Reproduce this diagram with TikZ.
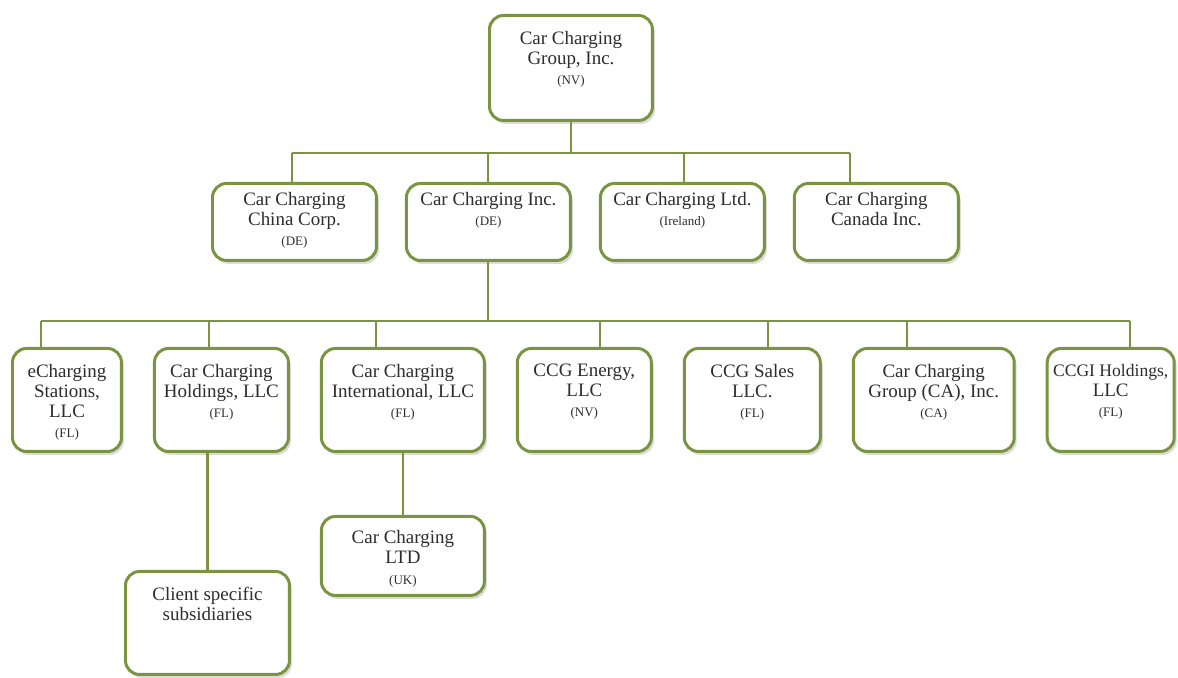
\documentclass[tikz,border=0pt]{standalone}
\usepackage{fontspec}
\setmainfont{Liberation Serif}
\usepackage{tikz}
\usetikzlibrary{positioning,shadows}
\definecolor{ccggreen}{RGB}{122,148,66}
\definecolor{ink}{RGB}{45,45,45}
\newcommand\firmfont{\fontsize{10.8}{11.4}\selectfont}
\newcommand\seat{\fontsize{7.4}{8}\selectfont}
\tikzset{
  firm/.style={draw=ccggreen, line width=1.7pt, rounded corners=0.28cm, fill=white,
               minimum width=#1, minimum height=2.06cm, inner sep=0pt,
               drop shadow={shadow xshift=0.05cm, shadow yshift=-0.07cm, opacity=0.35, fill=black!40}},
  firmname/.style={anchor=north, align=center, text=ink, font=\firmfont, inner sep=0pt, yshift=#1},
  firmname/.default=-0.33cm,
  link/.style={draw=ccggreen, line width=1.2pt},
}
\begin{document}
\begin{tikzpicture}[x=0.02cm, y=-0.02cm]
  \fill[white] (0,0) rectangle (1178,678);
  \useasboundingbox (0,0) rectangle (1178,678);

  % parent
  \node[firm=3.26cm, minimum height=2.1cm, anchor=north west,
        label={[firmname]north:{Car Charging\\Group, Inc.\\{\seat (NV)}}}] (ccg) at (488,14) {};

  % first tier
  \node[firm=3.28cm, minimum height=1.54cm, anchor=north west,
        label={[firmname=-0.19cm]north:{Car Charging\\China Corp.\\{\seat (DE)}}}] (china) at (211,182) {};
  \node[firm=3.28cm, minimum height=1.54cm, right=0.54cm of china,
        label={[firmname=-0.19cm]north:{Car Charging Inc.\\{\seat (DE)}}}] (inc) {};
  \node[firm=3.28cm, minimum height=1.54cm, right=0.54cm of inc,
        label={[firmname=-0.19cm]north:{Car Charging Ltd.\\{\seat (Ireland)}}}] (ltd) {};
  \node[firm=3.28cm, minimum height=1.54cm, right=0.54cm of ltd,
        label={[firmname=-0.19cm]north:{Car Charging\\Canada Inc.}}] (can) {};

  % second tier
  \node[firm=2.18cm, anchor=north west,
        label={[firmname]north:{eCharging\\Stations,\\LLC\\{\seat (FL)}}}] (estat) at (11,347) {};
  \node[firm=2.68cm, right=0.6cm of estat,
        label={[firmname]north:{Car Charging\\Holdings, LLC\\{\seat (FL)}}}] (hold) {};
  \node[firm=3.26cm, right=0.6cm of hold,
        label={[firmname]north:{Car Charging\\International, LLC\\{\seat (FL)}}}] (intl) {};
  \node[firm=2.68cm, right=0.6cm of intl,
        label={[firmname]north:{CCG Energy,\\LLC\\{\seat (NV)}}}] (energy) {};
  \node[firm=2.72cm, right=0.6cm of energy,
        label={[firmname]north:{CCG Sales\\LLC.\\{\seat (FL)}}}] (sales) {};
  \node[firm=3.22cm, right=0.6cm of sales,
        label={[firmname]north:{Car Charging\\Group (CA), Inc.\\{\seat (CA)}}}] (grpca) {};
  \node[firm=2.54cm, right=0.6cm of grpca,
        label={[firmname]north:{{\fontsize{10}{11.4}\selectfont CCGI Holdings,}\\LLC\\{\seat (FL)}}}] (ccgi) {};

  % third tier
  \node[firm=3.26cm, minimum height=1.58cm, below=1.24cm of intl,
        label={[firmname=-0.31cm]north:{Car Charging\\LTD\\{\seat (UK)}}}] (uk) {};
  \node[firm=3.28cm, anchor=north west,
        label={[firmname]north:{Client specific\\subsidiaries}}] (client) at (124,570) {};

  % connectors
  \coordinate (bus1) at (0,153);
  \coordinate (bus2) at (0,321);
  \draw[link] (ccg.south) -- (ccg.south |- bus1);
  \foreach \x/\n in {292/china, 488/inc, 684/ltd, 850/can}{
    \coordinate (t-\n) at (\x,153);
    \draw[link] (t-\n) -- (t-\n |- \n.north);
  }
  \draw[link] (t-china) -- (t-can);
  \draw[link] (inc.south) -- (inc.south |- bus2);
  \foreach \x/\n in {41/estat, 209/hold, 376/intl, 600/energy, 768/sales, 907/grpca, 1130/ccgi}{
    \coordinate (t-\n) at (\x,321);
    \draw[link] (t-\n) -- (t-\n |- \n.north);
  }
  \draw[link] (t-estat) -- (t-ccgi);
  \draw[link] (client.north) -- (client.north |- hold.south);
  \draw[link] (intl) -- (uk);

\end{tikzpicture}
\end{document}
